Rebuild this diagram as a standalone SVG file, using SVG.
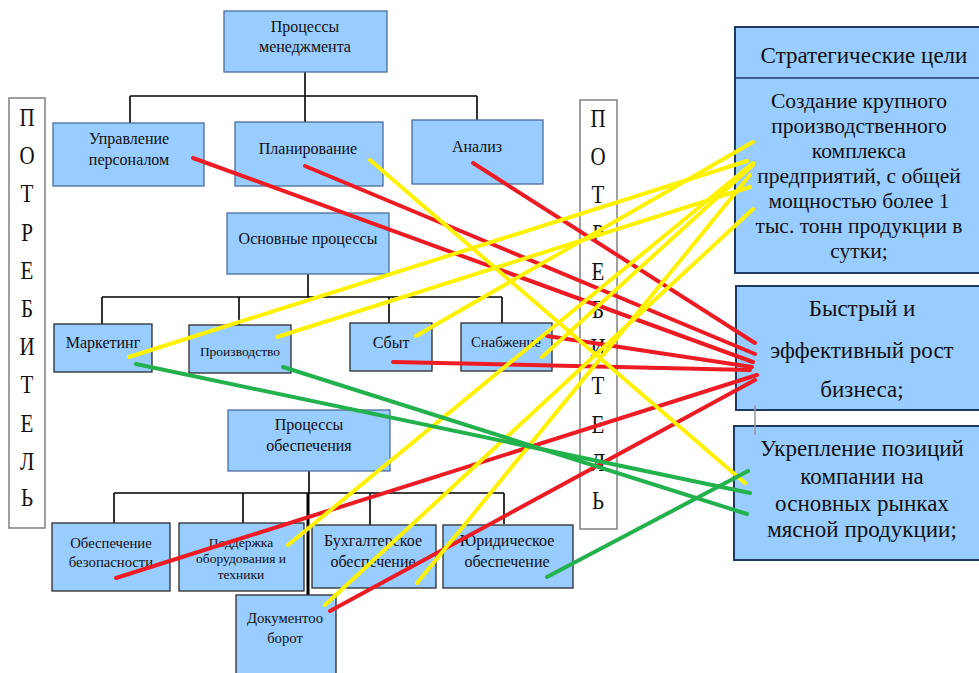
<svg xmlns="http://www.w3.org/2000/svg" width="979" height="673" viewBox="0 0 979 673">
  <defs>
    <style>
      .box { fill: #99CCFF; stroke: #4A6E9C; stroke-width: 1.3; }
      .sub { fill: #99CCFF; stroke: #2B2B2B; stroke-width: 1.3; }
      .goal { fill: #99CCFF; stroke: #1F3A60; stroke-width: 2; }
      .side { fill: #FFFFFF; stroke: #808080; stroke-width: 1.5; }
      .tree { fill: none; stroke: #000; stroke-width: 1.6; }
      text { font-family: "Liberation Serif", "Times New Roman", serif; fill: #111; text-anchor: middle; }
      .t15 { font-size: 16px; }
      .t13 { font-size: 13.5px; }
      .t14 { font-size: 14.7px; }
      .hd { font-size: 23px; }
      .body { font-size: 21.5px; }
      .big { font-size: 23px; }
      .letter { font-size: 21px; }
      .lk { fill: none; stroke-width: 4; stroke-linecap: round; }
      .red { stroke: #ED1C24; }
      .yel { stroke: #FFF200; }
      .grn { stroke: #22B14C; }
    </style>
  </defs>

  <rect width="979" height="673" fill="#FFFFFF"/>

  <!-- consumer columns -->
  <g id="consumer-left">
    <rect class="side" x="9" y="98" width="36" height="430"/>
    <text class="letter" transform="translate(27 126) scale(1 1.22)">П</text>
    <text class="letter" transform="translate(27 164) scale(1 1.22)">О</text>
    <text class="letter" transform="translate(27 202) scale(1 1.22)">Т</text>
    <text class="letter" transform="translate(27 241) scale(1 1.22)">Р</text>
    <text class="letter" transform="translate(27 279) scale(1 1.22)">Е</text>
    <text class="letter" transform="translate(27 317) scale(1 1.22)">Б</text>
    <text class="letter" transform="translate(27 355) scale(1 1.22)">И</text>
    <text class="letter" transform="translate(27 393) scale(1 1.22)">Т</text>
    <text class="letter" transform="translate(27 432) scale(1 1.22)">Е</text>
    <text class="letter" transform="translate(27 470) scale(1 1.22)">Л</text>
    <text class="letter" transform="translate(27 506) scale(1 1.22)">Ь</text>
  </g>
  <g id="consumer-right">
    <rect class="side" x="580" y="100" width="37" height="429"/>
    <text class="letter" transform="translate(598 127) scale(1 1.22)">П</text>
    <text class="letter" transform="translate(598 165) scale(1 1.22)">О</text>
    <text class="letter" transform="translate(598 203) scale(1 1.22)">Т</text>
    <text class="letter" transform="translate(598 242) scale(1 1.22)">Р</text>
    <text class="letter" transform="translate(598 280) scale(1 1.22)">Е</text>
    <text class="letter" transform="translate(598 318) scale(1 1.22)">Б</text>
    <text class="letter" transform="translate(598 356) scale(1 1.22)">И</text>
    <text class="letter" transform="translate(598 394) scale(1 1.22)">Т</text>
    <text class="letter" transform="translate(598 433) scale(1 1.22)">Е</text>
    <text class="letter" transform="translate(598 471) scale(1 1.22)">Л</text>
    <text class="letter" transform="translate(598 509) scale(1 1.22)">Ь</text>
  </g>

  <!-- hierarchy connectors -->
  <g id="tree">
    <path class="tree" d="M305 72 V96 M130 96 H477 M130 96 V124 M305 96 V122 M477 96 V120"/>
    <path class="tree" d="M308 274 V297 M102 297 H502 M102 297 V324 M239 297 V325 M389 297 V323 M502 297 V323"/>
    <path class="tree" d="M309 471 V493 M114 493 H504 M114 493 V523 M243 493 V523 M370 493 V525 M504 493 V524"/>
    <path class="tree" d="M308 493 V595" style="stroke-width:3"/>
  </g>

  <!-- management processes -->
  <g id="mgmt">
    <rect class="box" x="224" y="11" width="163" height="61"/>
    <text class="t15" x="305" y="32">Процессы</text>
    <text class="t15" x="305" y="52">менеджмента</text>
  </g>
  <g id="personnel">
    <rect class="box" x="53" y="123" width="151" height="63"/>
    <text class="t15" x="129" y="144">Управление</text>
    <text class="t15" x="129" y="165">персоналом</text>
  </g>
  <g id="planning">
    <rect class="box" x="235" y="122" width="148" height="64"/>
    <text class="t15" x="308" y="154">Планирование</text>
  </g>
  <g id="analysis">
    <rect class="box" x="412" y="120" width="131" height="64"/>
    <text class="t15" x="477" y="152">Анализ</text>
  </g>

  <!-- core processes -->
  <g id="core">
    <rect class="box" x="227" y="213" width="162" height="61"/>
    <text class="t15" x="308" y="244">Основные процессы</text>
  </g>
  <g id="marketing">
    <rect class="sub" x="54" y="324" width="98" height="48"/>
    <text class="t15" x="103" y="348">Маркетинг</text>
  </g>
  <g id="production">
    <rect class="sub" x="189" y="325" width="102" height="48"/>
    <text class="t13" x="240" y="356">Производство</text>
  </g>
  <g id="sales">
    <rect class="sub" x="350" y="323" width="82" height="48"/>
    <text class="t15" x="391" y="348">Сбыт</text>
  </g>
  <g id="supply">
    <rect class="sub" x="461" y="323" width="91" height="48"/>
    <text class="t14" x="506" y="347">Снабжение</text>
  </g>

  <!-- support processes -->
  <g id="support">
    <rect class="box" x="228" y="410" width="162" height="61"/>
    <text class="t15" x="309" y="430">Процессы</text>
    <text class="t15" x="309" y="451">обеспечения</text>
  </g>
  <g id="security">
    <rect class="sub" x="52" y="523" width="118" height="68"/>
    <text class="t14" x="111" y="548">Обеспечение</text>
    <text class="t14" x="111" y="567">безопасности</text>
  </g>
  <g id="maintenance">
    <rect class="sub" x="179" y="523" width="125" height="68"/>
    <text class="t13" x="241" y="547">Поддержка</text>
    <text class="t13" x="241" y="563">оборудования и</text>
    <text class="t13" x="241" y="579">техники</text>
  </g>
  <g id="accounting">
    <rect class="sub" x="312" y="525" width="124" height="63"/>
    <text class="t15" x="373" y="546">Бухгалтерское</text>
    <text class="t15" x="373" y="567">обеспечение</text>
  </g>
  <g id="legal">
    <rect class="sub" x="443" y="525" width="130" height="63"/>
    <text class="t15" x="507" y="546">Юридическое</text>
    <text class="t15" x="507" y="567">обеспечение</text>
  </g>
  <g id="docflow">
    <rect class="sub" x="236" y="595" width="100" height="82"/>
    <text class="t14" x="285" y="623">Документоо</text>
    <text class="t14" x="285" y="643">борот</text>
  </g>

  <!-- strategic goals -->
  <g id="goals">
    <rect class="goal" x="735" y="27" width="250" height="246"/>
    <line x1="735" y1="78" x2="985" y2="78" stroke="#1F3A60" stroke-width="1.5"/>
    <text class="hd" x="864" y="63">Стратегические цели</text>
    <text class="body" x="859" y="108">Создание крупного</text>
    <text class="body" x="859" y="133">производственного</text>
    <text class="body" x="859" y="158">комплекса</text>
    <text class="body" x="859" y="183">предприятий, с общей</text>
    <text class="body" x="859" y="208">мощностью более 1</text>
    <text class="body" x="859" y="233">тыс. тонн продукции в</text>
    <text class="body" x="859" y="258">сутки;</text>
  </g>
  <g id="growth">
    <rect class="goal" x="736" y="286" width="250" height="124"/>
    <text class="big" x="862" y="316">Быстрый и</text>
    <text class="big" x="862" y="358">эффективный рост</text>
    <text class="big" x="862" y="397">бизнеса;</text>
  </g>
  <g id="position">
    <rect class="goal" x="734" y="426" width="252" height="134"/>
    <text class="big" x="862" y="456">Укрепление позиций</text>
    <text class="big" x="862" y="484">компании на</text>
    <text class="big" x="862" y="511">основных рынках</text>
    <text class="big" x="862" y="537">мясной продукции;</text>
  </g>
  <line x1="755" y1="405" x2="755" y2="435" stroke="#9A9A9A" stroke-width="1.5"/>

  <!-- links between processes and goals -->
  <g id="links">
    <line class="lk red" x1="193" y1="158" x2="753" y2="362"/>
    <line class="lk red" x1="305" y1="166" x2="755" y2="354"/>
    <line class="lk red" x1="473" y1="163" x2="755" y2="343"/>
    <line class="lk red" x1="393" y1="362" x2="750" y2="370"/>
    <line class="lk red" x1="547" y1="336" x2="752" y2="367"/>
    <line class="lk red" x1="116" y1="578" x2="757" y2="375"/>
    <line class="lk red" x1="330" y1="611" x2="755" y2="380"/>

    <line class="lk yel" x1="370" y1="160" x2="745" y2="483"/>
    <line class="lk yel" x1="129" y1="357" x2="747" y2="161"/>
    <line class="lk yel" x1="277" y1="337" x2="750" y2="187"/>
    <line class="lk yel" x1="416" y1="336" x2="753" y2="142"/>
    <line class="lk yel" x1="542" y1="357" x2="753" y2="165"/>
    <line class="lk yel" x1="288" y1="545" x2="753" y2="163"/>
    <line class="lk yel" x1="417" y1="583" x2="750" y2="175"/>
    <line class="lk yel" x1="325" y1="605" x2="753" y2="209"/>

    <line class="lk grn" x1="136" y1="364" x2="750" y2="493"/>
    <line class="lk grn" x1="283" y1="367" x2="747" y2="514"/>
    <line class="lk grn" x1="547" y1="577" x2="748" y2="471"/>
  </g>
</svg>
